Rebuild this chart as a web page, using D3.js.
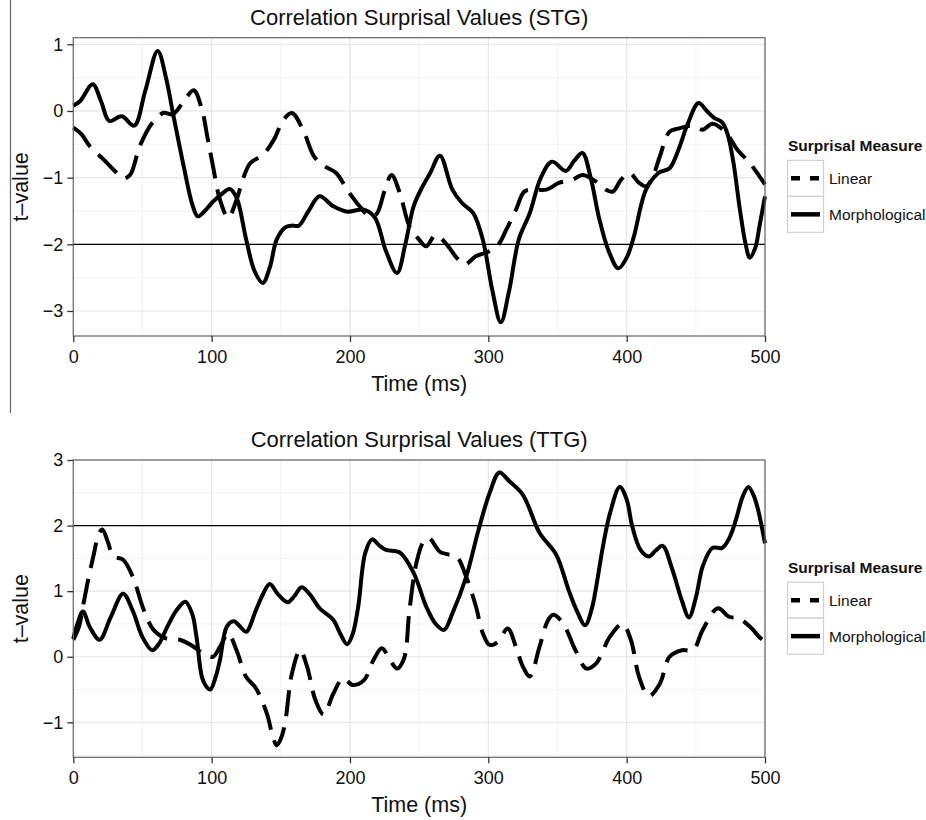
<!DOCTYPE html>
<html>
<head>
<meta charset="utf-8">
<script src="https://cdn.jsdelivr.net/npm/d3@7"></script>
<style>
  body { margin: 0; background: #fff; }
  text { font-family: "Liberation Sans", Arial, Helvetica, sans-serif; fill: #111; }
</style>
</head>
<body>
<svg id="chart" width="926" height="820"></svg>
<script>
// time (ms) and t-value pairs
var stgLinear = [[0,-0.25],[6,-0.35],[12,-0.53],[22,-0.73],[30,-0.9],[36,-1.01],[41,-0.96],[48,-0.53],[57,-0.18],[65,-0.03],[72,-0.05],[80,0.15],[87,0.31],[93,0.02],[97,-0.4],[101,-0.83],[106,-1.33],[112,-1.6],[118,-1.33],[123,-1.0],[128,-0.78],[137,-0.66],[145,-0.43],[152,-0.13],[158,-0.03],[166,-0.28],[174,-0.68],[181,-0.82],[190,-0.93],[198,-1.18],[207,-1.43],[214,-1.58],[219,-1.55],[225,-1.2],[230,-0.96],[236,-1.23],[243,-1.73],[250,-1.93],[255,-2.03],[262,-1.86],[271,-2.03],[277,-2.2],[283,-2.3],[291,-2.18],[300,-2.11],[307,-2.01],[313,-1.78],[320,-1.48],[326,-1.21],[332,-1.18],[342,-1.18],[351,-1.08],[361,-1.03],[368,-0.96],[378,-1.06],[385,-1.18],[390,-1.21],[396,-1.03],[402,-0.93],[409,-1.08],[414,-1.13],[419,-0.98],[424,-0.68],[431,-0.31],[438,-0.26],[448,-0.22],[455,-0.28],[462,-0.19],[472,-0.33],[480,-0.58],[489,-0.78],[496,-0.98],[500,-1.1]];
var stgMorph = [[0,0.08],[5,0.15],[14,0.4],[20,0.15],[26,-0.15],[35,-0.08],[44,-0.22],[52,0.3],[61,0.9],[67,0.5],[72,-0.03],[80,-0.85],[86,-1.4],[90,-1.58],[95,-1.5],[101,-1.36],[107,-1.25],[113,-1.17],[118,-1.3],[125,-1.93],[131,-2.4],[137,-2.58],[142,-2.35],[147,-1.93],[153,-1.75],[158,-1.72],[163,-1.72],[170,-1.5],[178,-1.28],[188,-1.43],[198,-1.51],[210,-1.48],[218,-1.6],[226,-2.1],[234,-2.43],[240,-2.0],[246,-1.43],[252,-1.15],[258,-0.93],[265,-0.67],[274,-1.18],[281,-1.38],[289,-1.53],[296,-1.93],[303,-2.7],[309,-3.17],[315,-2.7],[322,-1.93],[330,-1.53],[338,-1.0],[346,-0.76],[356,-0.9],[362,-0.75],[368,-0.63],[374,-1.0],[380,-1.6],[387,-2.1],[394,-2.36],[400,-2.2],[405,-1.9],[414,-1.18],[423,-0.93],[431,-0.86],[438,-0.55],[444,-0.2],[452,0.12],[458,0.0],[463,-0.1],[469,-0.17],[473,-0.35],[477,-0.75],[482,-1.5],[486,-2.0],[489,-2.2],[493,-2.05],[496,-1.73],[500,-1.28]];
var ttgLinear = [[0,0.26],[4,0.45],[7,0.77],[11,1.2],[15,1.58],[18,1.85],[21,1.94],[25,1.75],[29,1.53],[36,1.48],[43,1.22],[51,0.71],[58,0.41],[67,0.28],[77,0.26],[85,0.18],[94,0.05],[101,0.0],[106,0.15],[112,0.35],[118,0.1],[125,-0.31],[132,-0.48],[140,-0.87],[144,-1.2],[147,-1.35],[150,-1.25],[153,-1.02],[158,-0.26],[164,0.1],[169,-0.15],[175,-0.66],[181,-0.88],[188,-0.56],[195,-0.33],[202,-0.43],[210,-0.36],[217,-0.05],[223,0.13],[229,-0.05],[234,-0.18],[239,-0.03],[243,0.71],[248,1.43],[253,1.75],[257,1.81],[265,1.6],[271,1.56],[277,1.53],[284,1.22],[291,0.77],[296,0.36],[301,0.18],[307,0.23],[314,0.43],[320,0.15],[325,-0.15],[330,-0.3],[337,0.15],[343,0.55],[347,0.64],[354,0.51],[363,0.1],[371,-0.18],[378,-0.1],[388,0.31],[397,0.5],[403,0.26],[409,-0.31],[416,-0.6],[424,-0.41],[431,0.0],[440,0.1],[448,0.1],[455,0.41],[466,0.74],[474,0.61],[481,0.59],[489,0.46],[497,0.28],[500,0.24]];
var ttgMorph = [[0,0.28],[3,0.5],[7,0.69],[12,0.45],[19,0.26],[27,0.6],[36,0.96],[43,0.7],[50,0.3],[57,0.1],[62,0.2],[68,0.46],[75,0.72],[81,0.84],[86,0.65],[89,0.31],[93,-0.31],[96,-0.45],[99,-0.5],[103,-0.3],[106,-0.05],[111,0.46],[116,0.54],[121,0.45],[125,0.38],[132,0.71],[137,0.95],[142,1.11],[148,0.95],[155,0.83],[160,0.93],[165,1.06],[171,0.95],[178,0.74],[188,0.56],[193,0.35],[198,0.19],[202,0.35],[206,0.77],[211,1.58],[216,1.79],[221,1.7],[226,1.63],[236,1.59],[246,1.28],[255,0.77],[262,0.5],[268,0.41],[274,0.66],[284,1.22],[293,1.94],[301,2.5],[308,2.81],[315,2.68],[325,2.47],[337,1.89],[349,1.56],[358,1.02],[364,0.7],[370,0.48],[375,0.75],[378,1.07],[383,1.7],[388,2.19],[395,2.59],[400,2.4],[404,1.99],[410,1.63],[416,1.53],[421,1.62],[426,1.69],[433,1.33],[440,0.85],[445,0.6],[450,0.9],[455,1.38],[462,1.66],[469,1.66],[474,1.8],[479,2.09],[484,2.45],[488,2.59],[492,2.45],[495,2.24],[500,1.73]];

var xTicks = [0, 100, 200, 300, 400, 500];
var stgTicks = [1, 0, -1, -2, -3];
var ttgTicks = [3, 2, 1, 0, -1];
var measures = ["Linear", "Morphological"];

var svg = d3.select("#chart");
svg.append("rect").attr("width", 926).attr("height", 820).attr("fill", "#fff");
// stray rule on the left edge of the original figure
svg.append("line").attr("x1", 10.5).attr("x2", 10.5).attr("y1", 0).attr("y2", 413)
    .attr("stroke", "#666").attr("stroke-width", 1.2);

var fmt = function (d) { return d < 0 ? "\u2212" + Math.abs(d) : String(d); };

function panel(cfg) {
    var x = d3.scaleLinear().domain([0, 500]).range([73.3, 765]);
    var y = d3.scaleLinear().domain(cfg.domain).range([cfg.bottom, cfg.top]);
    var g = svg.append("g");

    // minor + major grid
    var minorX = d3.range(50, 500, 100);
    var minorY = d3.range(-10, 10).map(function (v) { return v + 0.5; })
        .filter(function (v) { return v > cfg.domain[0] && v < cfg.domain[1]; });
    g.selectAll(".mx").data(minorX).enter().append("line")
        .attr("x1", x).attr("x2", x).attr("y1", cfg.top).attr("y2", cfg.bottom)
        .attr("stroke", "#f3f3f3").attr("stroke-width", 1);
    g.selectAll(".my").data(minorY).enter().append("line")
        .attr("y1", y).attr("y2", y).attr("x1", 73.3).attr("x2", 765)
        .attr("stroke", "#f3f3f3").attr("stroke-width", 1);
    g.selectAll(".gx").data(xTicks).enter().append("line")
        .attr("x1", x).attr("x2", x).attr("y1", cfg.top).attr("y2", cfg.bottom)
        .attr("stroke", "#e6e6e6").attr("stroke-width", 1.2);
    g.selectAll(".gy").data(cfg.ticks).enter().append("line")
        .attr("y1", y).attr("y2", y).attr("x1", 73.3).attr("x2", 765)
        .attr("stroke", "#e6e6e6").attr("stroke-width", 1.2);

    // threshold line
    g.append("line").attr("x1", 73.3).attr("x2", 765)
        .attr("y1", y(cfg.threshold)).attr("y2", y(cfg.threshold))
        .attr("stroke", "#000").attr("stroke-width", 1.3);

    var line = d3.line()
        .x(function (d) { return x(d[0]); })
        .y(function (d) { return y(d[1]); })
        .curve(d3.curveCatmullRom.alpha(0.5));

    g.append("path").datum(cfg.linear).attr("d", line)
        .attr("fill", "none").attr("stroke", "#000").attr("stroke-width", 4)
        .attr("stroke-dasharray", "26,11");
    g.append("path").datum(cfg.morph).attr("d", line)
        .attr("fill", "none").attr("stroke", "#000").attr("stroke-width", 4)
        .attr("stroke-linejoin", "round");

    // panel border
    g.append("rect").attr("x", 73.3).attr("y", cfg.top)
        .attr("width", 765 - 73.3).attr("height", cfg.bottom - cfg.top)
        .attr("fill", "none").attr("stroke", "#666").attr("stroke-width", 1.2);

    // axes
    var xa = g.append("g").attr("transform", "translate(0," + cfg.bottom + ")")
        .call(d3.axisBottom(x).tickValues(xTicks).tickSize(6).tickPadding(4));
    var ya = g.append("g").attr("transform", "translate(73.3,0)")
        .call(d3.axisLeft(y).tickValues(cfg.ticks).tickFormat(fmt).tickSize(6).tickPadding(4));
    [xa, ya].forEach(function (a) {
        a.select(".domain").remove();
        a.selectAll(".tick line").attr("stroke", "#333").attr("stroke-width", 1.3);
        a.selectAll("text").style("font-size", "18px").attr("fill", "#111");
    });
    xa.selectAll("text").attr("dy", "0.95em");

    g.append("text").attr("x", (73.3 + 765) / 2).attr("y", cfg.top - 13)
        .attr("text-anchor", "middle").style("font-size", "22px").text(cfg.title);
    g.append("text").attr("x", (73.3 + 765) / 2).attr("y", cfg.bottom + 55)
        .attr("text-anchor", "middle").style("font-size", "21.5px").text("Time (ms)");
    var cy = (cfg.top + cfg.bottom) / 2;
    g.append("text").attr("transform", "translate(28," + cy + ") rotate(-90)")
        .attr("text-anchor", "middle").style("font-size", "21.5px").text("t\u2013value");

    // legend
    var lg = g.append("g").attr("transform", "translate(787.5," + (cy - 26.5) + ")");
    lg.append("text").attr("x", 0.5).attr("y", -9.5).style("font-size", "15.5px")
        .style("font-weight", "bold").text("Surprisal Measure");
    var items = lg.selectAll(".it").data(measures).enter().append("g")
        .attr("transform", function (d, i) { return "translate(0," + i * 36 + ")"; });
    items.append("rect").attr("width", 36).attr("height", 36)
        .attr("fill", "#fff").attr("stroke", "#d0d0d0").attr("stroke-width", 1.2);
    items.append("line").attr("x1", 3.5).attr("x2", 32.5).attr("y1", 18).attr("y2", 18)
        .attr("stroke", "#000").attr("stroke-width", 4.5)
        .attr("stroke-dasharray", function (d) { return d === "Linear" ? "9,10" : null; });
    items.append("text").attr("x", 41.5).attr("y", 18).attr("dy", "0.36em")
        .style("font-size", "15.5px").text(function (d) { return d; });
}

panel({ title: "Correlation Surprisal Values (STG)", top: 37.7, bottom: 336,
    domain: [-3.375, 1.099], ticks: stgTicks, threshold: -2, linear: stgLinear, morph: stgMorph });
panel({ title: "Correlation Surprisal Values (TTG)", top: 460, bottom: 757.3,
    domain: [-1.533, 3.0], ticks: ttgTicks, threshold: 2, linear: ttgLinear, morph: ttgMorph });
</script>
</body>
</html>
